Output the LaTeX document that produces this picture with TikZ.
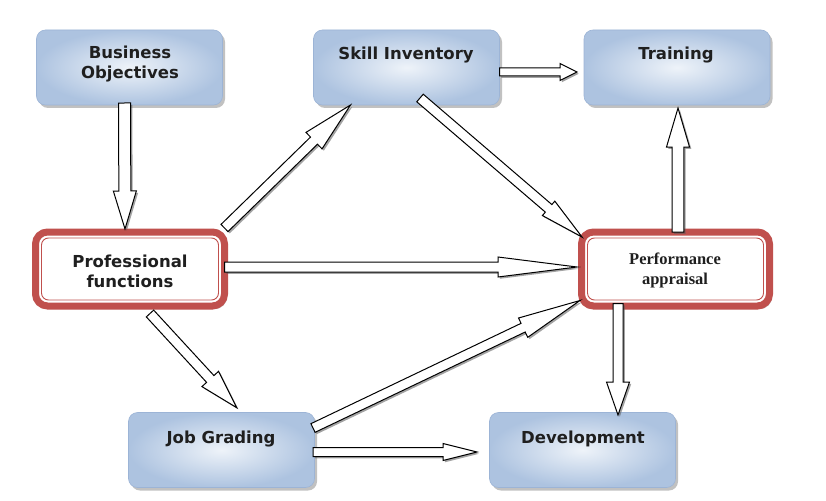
\documentclass[tikz,border=0pt]{standalone}
\usepackage{fontspec}
\setmainfont{DejaVu Sans}
\newfontfamily\serifbold{Liberation Serif}
\usetikzlibrary{calc,shadows}
\definecolor{pfred}{HTML}{C0504D}
\definecolor{bxin}{HTML}{EEF3F9}
\definecolor{bxout}{HTML}{ADC3E0}
\definecolor{bxline}{HTML}{9CB4D6}
\tikzset{
  bluebox/.style={rectangle, rounded corners=9pt, minimum width=186pt, minimum height=75pt,
    inner sep=0pt, outer sep=0pt, inner color=bxin, outer color=bxout, draw=bxline, line width=0.6pt,
    drop shadow={shadow xshift=2.5pt, shadow yshift=-3pt, fill=black!60, opacity=0.4}},
  redbox/.style={rectangle, rounded corners=12pt, minimum height=74pt,
    inner sep=0pt, outer sep=0pt, fill=white, draw=pfred, line width=7pt,
    drop shadow={shadow xshift=2.5pt, shadow yshift=-3pt, fill=black!60, opacity=0.4}},
  redinner/.style={draw=pfred, line width=0.9pt, rounded corners=7pt},
  lbl/.style={font=\fontsize{16.5}{20}\selectfont\bfseries, align=center, text=black!88, inner sep=0pt},
  slbl/.style={font=\fontsize{16.5}{20}\selectfont\serifbold\bfseries, align=center, text=black!88, inner sep=0pt},
  ashadow/.style={fill=black!65, opacity=0.55},
  abody/.style={fill=white, draw=black, line width=1pt, line join=miter},
}
% #1 start, #2 tip, #3 shaft half width, #4 head half width, #5 head length
\newcommand\barrow[5]{%
  \path[ashadow] let \p1=#1, \p2=#2, \n1={atan2(\y2-\y1,\x2-\x1)}, \n2={veclen(\x2-\x1,\y2-\y1)} in
    [shift={(\p1)}, xshift=1.8pt, yshift=-1.8pt, rotate=\n1]
    (0,#3) -- ({\n2-#5},#3) -- ({\n2-#5},#4) -- ({\n2},0) -- ({\n2-#5},-#4) -- ({\n2-#5},-#3) -- (0,-#3) -- cycle;
  \path[abody] let \p1=#1, \p2=#2, \n1={atan2(\y2-\y1,\x2-\x1)}, \n2={veclen(\x2-\x1,\y2-\y1)} in
    [shift={(\p1)}, rotate=\n1]
    (0,#3) -- ({\n2-#5},#3) -- ({\n2-#5},#4) -- ({\n2},0) -- ({\n2-#5},-#4) -- ({\n2-#5},-#3) -- (0,-#3) -- cycle;
}
\begin{document}
\begin{tikzpicture}[x=1pt,y=-1pt]
\useasboundingbox[fill=white] (0,0) rectangle (826,500);
% boxes
\node[bluebox] (bo) at (129.5,67.5) {};
\node[bluebox] (si) at (406.5,67.5) {};
\node[bluebox] (tr) at (677,67.5) {};
\node[bluebox] (jg) at (221.5,450) {};
\node[bluebox] (dev) at (582.5,450) {};
\node[redbox, minimum width=189pt] (pf) at (130,269) {};
\node[redbox, minimum width=188pt] (pa) at (675.5,269) {};
\draw[redinner] ([xshift=6pt,yshift=-6pt]pf.north west) rectangle ([xshift=-6pt,yshift=6pt]pf.south east);
\draw[redinner] ([xshift=6pt,yshift=-6pt]pa.north west) rectangle ([xshift=-6pt,yshift=6pt]pa.south east);
% labels
\node[lbl] (bo-t) at (130,64) {Business\\Objectives};
\node[lbl] (si-t) at (406,55) {Skill Inventory};
\node[lbl] (tr-t) at (676,55) {Training};
\node[lbl] (pf-t) at (130,271) {Professional\\functions};
\node[slbl] (pa-t) at (675,270) {Performance\\appraisal};
\node[lbl] (jg-t) at (221,439) {Job Grading};
\node[lbl] (dev-t) at (583,439) {Development};
% arrows
\barrow{([xshift=-5pt,yshift=2pt]bo.south)}{([xshift=-5pt,yshift=3pt]pf.north)}{6}{11.5}{38}
\barrow{([yshift=4pt]pf.north east)}{([xshift=-56pt]si.south)}{5}{11.5}{51}
\barrow{([yshift=-4.5pt]si.east)}{([xshift=-7pt,yshift=-4.5pt]tr.west)}{4}{8.5}{17}
\barrow{([xshift=13.5pt,yshift=7pt]si.south)}{([xshift=0.5pt,yshift=-5pt]pa.north west)}{5}{9.5}{44}
\barrow{([yshift=2pt]pf.east)}{([xshift=-4.5pt,yshift=2pt]pa.west)}{5}{10}{79}
\barrow{([xshift=2.5pt]pa.north)}{([xshift=1pt,yshift=-3pt]tr.south)}{5.8}{11.5}{39}
\barrow{([xshift=20pt,yshift=-7.5pt]pf.south)}{([xshift=15.5pt,yshift=4.5pt]jg.north)}{5}{11.3}{39}
\barrow{([xshift=-1.5pt,yshift=22pt]jg.east)}{([xshift=-1.5pt,yshift=5.5pt]pa.south west)}{4.8}{10.7}{63}
\barrow{([xshift=-1.5pt,yshift=-2pt]jg.east)}{([xshift=-12.5pt,yshift=-2pt]dev.west)}{4.5}{8.5}{34}
\barrow{([xshift=-57.5pt,yshift=2.5pt]pa.south)}{([xshift=35.5pt,yshift=-2.5pt]dev.north)}{5}{11.5}{33}
\end{tikzpicture}
\end{document}
